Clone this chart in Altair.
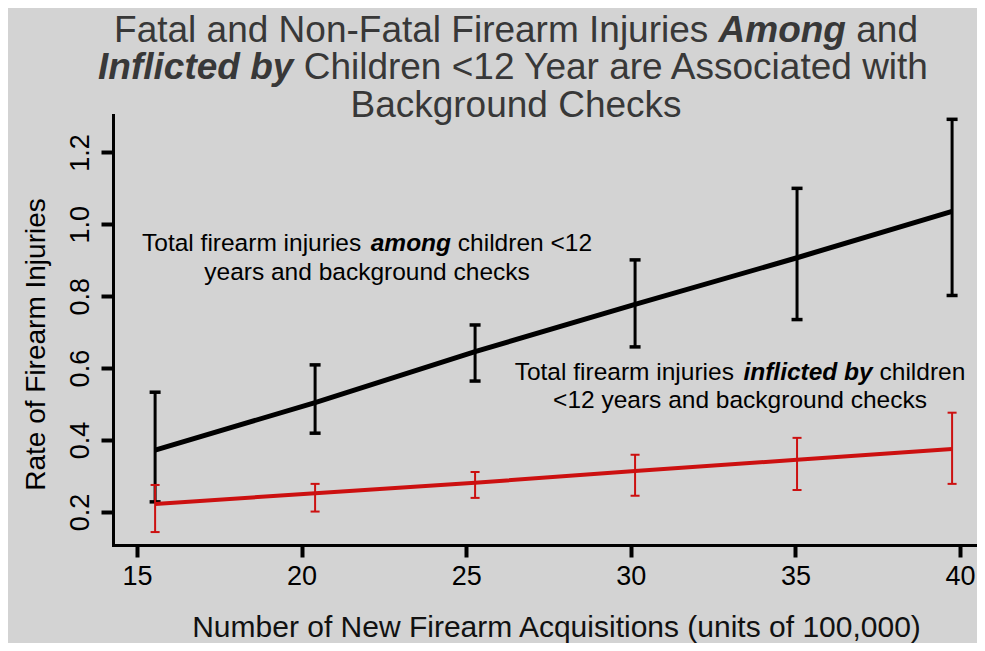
import altair as alt
import pandas as pd

# ---------------- data ----------------
acquisitions = [15.55, 20.41, 25.27, 30.13, 35.05, 39.76]

among_rate = [0.372, 0.504, 0.646, 0.777, 0.907, 1.036]
among_low = [0.228, 0.419, 0.564, 0.659, 0.735, 0.802]
among_high = [0.533, 0.609, 0.720, 0.901, 1.100, 1.292]

inflicted_rate = [0.222, 0.252, 0.281, 0.314, 0.345, 0.375]
inflicted_low = [0.144, 0.201, 0.239, 0.245, 0.261, 0.278]
inflicted_high = [0.275, 0.278, 0.311, 0.359, 0.406, 0.476]

x_ticks = [15, 20, 25, 30, 35, 40]
y_ticks = [0.2, 0.4, 0.6, 0.8, 1.0, 1.2]

title_lines = [
    [("Fatal and Non-Fatal Firearm Injuries ", False), ("Among", True), (" and", False)],
    [("Inflicted by", True), (" Children <12 Year are Associated with", False)],
    [("Background Checks", False)],
]
note_among = [
    [("Total firearm injuries ", False), ("among", True), (" children <12", False)],
    [("years and background checks", False)],
]
note_inflicted = [
    [("Total firearm injuries ", False), ("inflicted by", True), (" children", False)],
    [("<12 years and background checks", False)],
]

FONT = "Liberation Sans, Arial, sans-serif"
BG = "#d3d3d3"
RED = "#cc1010"

W, H = 862, 430

# ---------------- text width helper (Arial / Liberation Sans metrics) -------
REG = {' ': 278, '<': 584, ',': 278, '(': 333, ')': 333, '-': 333, '.': 278,
       'A': 667, 'B': 667, 'C': 722, 'F': 611, 'I': 278, 'N': 722, 'T': 611, 'Y': 667,
       'a': 556, 'b': 556, 'c': 500, 'd': 556, 'e': 556, 'f': 278, 'g': 556,
       'h': 556, 'i': 222, 'j': 222, 'k': 500, 'l': 222, 'm': 833, 'n': 556,
       'o': 556, 'r': 333, 's': 500, 't': 278, 'u': 556, 'w': 722, 'y': 500}
BOLD = {' ': 278, 'A': 722, 'I': 278, 'a': 556, 'b': 611, 'c': 556, 'd': 611,
        'e': 556, 'f': 333, 'g': 611, 'i': 278, 'l': 278, 'm': 889, 'n': 611,
        'o': 611, 't': 333, 'y': 556}


def text_width(s, bold, size):
    table = BOLD if bold else REG
    return sum(table.get(ch, 556) for ch in s) * size / 1000.0


def layout_line(segments, size, center):
    total = sum(text_width(t, b, size) for t, b in segments)
    x = center - total / 2.0
    out = []
    for t, b in segments:
        lead = len(t) - len(t.lstrip(" "))
        out.append((t.strip(), b, x + lead * 0.278 * size))
        x += text_width(t, b, size)
    return out


def text_layers(lines, size, center, baselines, color):
    layers = []
    for segs, yb in zip(lines, baselines):
        for txt, bold, xpos in layout_line(segs, size, center):
            layers.append(
                alt.Chart(pd.DataFrame({"t": [txt]}))
                .mark_text(
                    align="left",
                    baseline="alphabetic",
                    font=FONT,
                    fontSize=size,
                    fontWeight="bold" if bold else "normal",
                    fontStyle="italic" if bold else "normal",
                    color=color,
                )
                .encode(x=alt.value(xpos), y=alt.value(yb), text="t:N")
            )
    return layers


# ---------------- data tables ----------------
among_df = pd.DataFrame({"x": acquisitions, "mid": among_rate, "lo": among_low, "hi": among_high})
infl_df = pd.DataFrame({"x": acquisitions, "mid": inflicted_rate, "lo": inflicted_low, "hi": inflicted_high})

xscale = alt.Scale(domain=[14.271, 40.456], nice=False, zero=False)
yscale = alt.Scale(domain=[0.108, 1.304], nice=False, zero=False)

xaxis = alt.Axis(
    values=x_ticks, grid=False, labelFlush=False, labelOverlap=False,
    domainColor="black", domainWidth=3, domainCap="square",
    tickColor="black", tickWidth=4, tickSize=12,
    labelFont=FONT, labelFontSize=27, labelColor="black",
    labelBaseline="alphabetic", labelPadding=27,
    title="Number of New Firearm Acquisitions (units of 100,000)",
    titleFont=FONT, titleFontSize=30, titleFontWeight="normal", titleColor="#111111",
    titleX=443, titleY=91, titleAlign="center", titleBaseline="alphabetic",
)
yaxis = alt.Axis(
    values=y_ticks, format=".1f", grid=False, labelFlush=False, labelOverlap=False,
    domainColor="black", domainWidth=3, domainCap="square",
    tickColor="black", tickWidth=4, tickSize=12,
    labelFont=FONT, labelFontSize=27, labelColor="black",
    labelAngle=-90, labelAlign="center", labelBaseline="alphabetic", labelPadding=13,
    title="Rate of Firearm Injuries",
    titleFont=FONT, titleFontSize=28, titleFontWeight="normal", titleColor="black",
    titleAngle=270, titleX=-69, titleY=229, titleAlign="center", titleBaseline="alphabetic",
)

X = alt.X("x:Q", scale=xscale, axis=xaxis)


def series_layers(df, color, line_w, bar_w, cap_size, cap_thick):
    base = alt.Chart(df)
    line = base.mark_line(color=color, strokeWidth=line_w).encode(
        x=X, y=alt.Y("mid:Q", scale=yscale, axis=yaxis))
    rule = base.mark_rule(color=color, strokeWidth=bar_w).encode(
        x=X, y=alt.Y("lo:Q", scale=yscale, axis=yaxis), y2="hi:Q")
    cap_lo = base.mark_tick(orient="horizontal", color=color, size=cap_size,
                            thickness=cap_thick, opacity=1).encode(
        x=X, y=alt.Y("lo:Q", scale=yscale, axis=yaxis))
    cap_hi = base.mark_tick(orient="horizontal", color=color, size=cap_size,
                            thickness=cap_thick, opacity=1).encode(
        x=X, y=alt.Y("hi:Q", scale=yscale, axis=yaxis))
    return [line, rule, cap_lo, cap_hi]


layers = []
layers += series_layers(among_df, "black", 5, 3, 11, 3.5)
layers += series_layers(infl_df, RED, 4, 2, 9, 2)

# title (mixed normal / bold-italic) placed above the plot area
layers += text_layers(title_lines, 37, 403, [-73, -36, 2], "#383838")
# annotations
layers += text_layers(note_among, 24.5, 254, [136, 165], "black")
layers += text_layers(note_inflicted, 24.5, 627, [265, 293], "black")

chart = (
    alt.layer(*layers)
    .properties(
        width=W, height=H,
        background=BG,
        autosize=alt.AutoSizeParams(type="none"),
        padding={"left": 105, "top": 107, "right": 2, "bottom": 98},
    )
    .configure_view(stroke=None)
)

chart.save("out.html", embed_options={"renderer": "svg", "actions": False})
